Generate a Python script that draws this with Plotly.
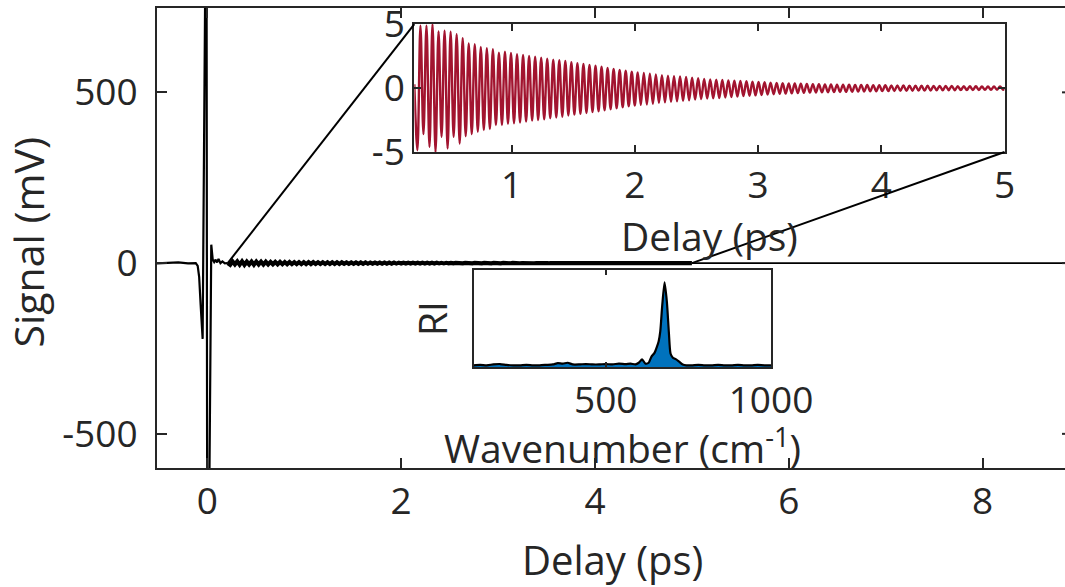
import numpy as np
import plotly.graph_objects as go

# ---------------- data ----------------
# Transient around time zero (delay in ps, signal in mV)
head_t = [-0.52, -0.40, -0.30, -0.20, -0.12, -0.10, -0.085, -0.07, -0.058, -0.049,
          -0.010, 0.0, 0.04, 0.055, 0.07, 0.085, 0.10, 0.115, 0.135, 0.155, 0.18, 0.20, 0.21]
head_v = [-1.0, 1.5, 2.0, -1.0, 0.0, -8.0, -40.0, -120.0, -190.0, -222.0,
          1300.0, -1400.0, 54.0, 10.0, 3.0, 10.0, 2.0, 12.0, 0.0, 5.0, -1.0, 1.0, 0.3]

# Coherent oscillation after 0.21 ps: successive extrema (mV), half a period apart
osc_start = 0.235
osc_half_period = 0.0245
osc_extrema = [
    -4.86, 4.87, -3.60, 4.87, -4.60, 5.00, -5.00, 4.43, -3.81, 4.48,
    -4.73, 4.40, -3.81, 4.21, -4.34, 3.90, -3.76, 3.48, -3.60, 3.42,
    -3.42, 3.21, -3.28, 3.11, -3.20, 3.03, -2.89, 2.77, -2.89, 2.85,
    -2.80, 2.75, -2.75, 2.65, -2.70, 2.58, -2.62, 2.50, -2.55, 2.45,
    -2.50, 2.38, -2.45, 2.30, -2.36, 2.22, -2.30, 2.18, -2.24, 2.12,
    -2.15, 2.02, -2.08, 1.95, -2.02, 1.88, -1.95, 1.80, -1.88, 1.74,
    -1.82, 1.66, -1.74, 1.58, -1.66, 1.50, -1.58, 1.42, -1.50, 1.35,
    -1.42, 1.28, -1.36, 1.22, -1.32, 1.18, -1.28, 1.12, -1.22, 1.06,
    -1.16, 1.00, -1.12, 0.96, -1.08, 0.92, -1.04, 0.90, -1.00, 0.86,
    -0.95, 0.80, -0.90, 0.76, -0.86, 0.72, -0.82, 0.68, -0.80, 0.66,
    -0.78, 0.64, -0.74, 0.60, -0.70, 0.58, -0.66, 0.55, -0.63, 0.53,
    -0.60, 0.50, -0.57, 0.47, -0.54, 0.45, -0.51, 0.42, -0.48, 0.40,
    -0.46, 0.38, -0.44, 0.36, -0.42, 0.35, -0.40, 0.33, -0.38, 0.32,
    -0.36, 0.31, -0.35, 0.30, -0.34, 0.29, -0.33, 0.28, -0.32, 0.27,
    -0.31, 0.27, -0.30, 0.26, -0.29, 0.25, -0.28, 0.25, -0.27, 0.24,
    -0.26, 0.23, -0.25, 0.23, -0.24, 0.22, -0.24, 0.21, -0.23, 0.21,
    -0.22, 0.20, -0.22, 0.19, -0.21, 0.19, -0.20, 0.18, -0.20, 0.18,
    -0.19, 0.17, -0.18, 0.17, -0.18, 0.16, -0.17, 0.16, -0.17, 0.15,
    -0.16, 0.15, -0.16, 0.14, -0.15, 0.14, -0.15, 0.13, -0.14, 0.13,
    -0.14, 0.12, -0.13, 0.12, -0.13,
]
osc_edge_t = [0.21, 5.0]
osc_edge_v = [0.3, -0.05]

# Long-delay baseline
tail_t = [5.0, 6.0, 7.0, 8.0, 8.85]
tail_v = [-0.05, 0.0, 0.0, 0.0, 0.0]

# Raman intensity spectrum (wavenumber in cm^-1, normalised intensity)
spec_wn = [100, 120, 140, 160, 180, 200, 220, 240, 260, 280, 300, 320, 340, 355, 370,
           385, 400, 420, 440, 460, 480, 500, 520, 540, 560, 575, 590, 600, 610, 620,
           630, 638, 648, 655, 660, 665, 671, 678, 685, 691, 696, 703, 713, 723, 733,
           744, 760, 780, 800, 820, 840, 860, 880, 900, 920, 940, 960, 980, 1000]
spec_ri = [0.02, 0.025, 0.02, 0.03, 0.035, 0.025, 0.02, 0.02, 0.025, 0.02, 0.02, 0.025,
           0.03, 0.045, 0.04, 0.05, 0.03, 0.03, 0.035, 0.03, 0.03, 0.035, 0.03, 0.04,
           0.035, 0.04, 0.03, 0.05, 0.09, 0.04, 0.05, 0.12, 0.17, 0.24, 0.30, 0.42,
           0.73, 1.00, 0.77, 0.41, 0.16, 0.11, 0.09, 0.06, 0.03, 0.02, 0.02, 0.025,
           0.02, 0.02, 0.025, 0.02, 0.02, 0.025, 0.02, 0.02, 0.025, 0.02, 0.02]

# Axis ticks
main_xticks = [0, 2, 4, 6, 8]
main_yticks = [-500, 0, 500]
trace_xticks = [1, 2, 3, 4, 5]
trace_yticks = [-5, 0, 5]
spec_xticks = [500, 1000]

# ---------------- layout constants ----------------
W, H = 1065, 587
MARGIN = dict(l=157, r=0, t=8, b=119)
MAIN_XR = [-0.52, 8.85]
MAIN_YR = [-600, 747]
TRACE_XR = [0.21, 5.0]
TRACE_YR = [-5, 5]
SPEC_XR = [100, 1000]
SPEC_YR = [0, 1.146]
TRACE_DOM_X = [0.2834, 0.9334]
TRACE_DOM_Y = [0.687, 0.965]
SPEC_DOM_X = [0.3486, 0.6762]
SPEC_DOM_Y = [0.2196, 0.4304]

INK = "#262626"
RED = "#A2142F"
BLUE = "#0072BD"
FONT = "Open Sans"
TICK_SIZE = 37
TITLE_SIZE = 39
MAIN_TITLE_SIZE = 40


def labels(vals):
    # plain hyphen-minus for negative tick labels
    return [str(v) for v in vals]


osc_t = list(osc_start + osc_half_period * np.arange(len(osc_extrema)))
trace_t = [osc_edge_t[0]] + osc_t + [osc_edge_t[1]]
trace_v = [osc_edge_v[0]] + osc_extrema + [osc_edge_v[1]]

fig = go.Figure()

# Transient on the main axes: pulse region and long-delay baseline
fig.add_trace(go.Scatter(
    x=head_t, y=head_v, mode="lines", line=dict(color="black", width=2.2),
    xaxis="x", yaxis="y", hoverinfo="skip"))
fig.add_trace(go.Scatter(
    x=tail_t, y=tail_v, mode="lines", line=dict(color="black", width=1.8),
    xaxis="x", yaxis="y", hoverinfo="skip"))
# Oscillating part on the main axes (dense band at this scale)
fig.add_trace(go.Scatter(
    x=trace_t, y=trace_v, mode="lines", line=dict(color="black", width=4.2),
    xaxis="x", yaxis="y", hoverinfo="skip"))

# Zoomed oscillation
fig.add_trace(go.Scatter(
    x=trace_t, y=trace_v, mode="lines",
    line=dict(color=RED, width=2.4, shape="spline", smoothing=1.0),
    xaxis="x2", yaxis="y2", hoverinfo="skip"))

# Spectrum
fig.add_trace(go.Scatter(
    x=spec_wn, y=spec_ri, mode="lines", fill="tozeroy", fillcolor=BLUE,
    line=dict(color="black", width=2.2, shape="spline", smoothing=0.6),
    xaxis="x3", yaxis="y3", hoverinfo="skip"))

axis_common = dict(showgrid=False, zeroline=False, showline=True, linewidth=2,
                   linecolor=INK, ticks="inside", tickwidth=2, tickcolor=INK,
                   automargin=False, ticklabeloverflow="allow",
                   tickfont=dict(family=FONT, size=TICK_SIZE, color=INK))

fig.update_layout(
    width=W, height=H, margin=MARGIN,
    paper_bgcolor="white", plot_bgcolor="white", showlegend=False,
    font=dict(family=FONT, size=TICK_SIZE, color=INK),
    xaxis=dict(domain=[0, 1], range=MAIN_XR, tickvals=main_xticks,
               ticktext=labels(main_xticks), ticklen=10,
               mirror="ticks", anchor="y", **axis_common),
    yaxis=dict(domain=[0, 1], range=MAIN_YR, tickvals=main_yticks,
               ticktext=labels(main_yticks), ticklen=10, ticklabelstandoff=10,
               mirror=False, anchor="x", **axis_common),
    xaxis2=dict(domain=TRACE_DOM_X, range=TRACE_XR, tickvals=trace_xticks,
                ticktext=labels(trace_xticks), ticklen=7,
                mirror="ticks", anchor="y2",
                title=dict(text="Delay (ps)", font=dict(size=TITLE_SIZE), standoff=1),
                **axis_common),
    yaxis2=dict(domain=TRACE_DOM_Y, range=TRACE_YR, tickvals=trace_yticks,
                ticktext=labels(trace_yticks), ticklen=7,
                mirror="ticks", anchor="x2", **axis_common),
    xaxis3=dict(domain=SPEC_DOM_X, range=SPEC_XR, tickvals=spec_xticks,
                ticktext=labels(spec_xticks), ticklen=5,
                mirror="ticks", anchor="y3", **axis_common),
    yaxis3=dict(domain=SPEC_DOM_Y, range=SPEC_YR, showticklabels=False, tickvals=[],
                mirror=True, anchor="x3",
                title=dict(text="RI", font=dict(size=TITLE_SIZE), standoff=12),
                **axis_common),
)

# Axis titles placed as annotations (paper coordinates of the main plot area)
fig.add_annotation(text="Delay (ps)", xref="paper", yref="paper",
                   x=0.5017, y=-0.198, xanchor="center", yanchor="middle",
                   showarrow=False,
                   font=dict(family=FONT, size=MAIN_TITLE_SIZE, color=INK))
fig.add_annotation(text="Signal (mV)", xref="paper", yref="paper",
                   x=-0.1426, y=0.4913, xanchor="center", yanchor="middle",
                   textangle=-90, showarrow=False,
                   font=dict(family=FONT, size=MAIN_TITLE_SIZE + 1, color=INK))
fig.add_annotation(text="Wavenumber (cm<sup>-1</sup>)", xref="paper", yref="paper",
                   x=(SPEC_DOM_X[0] + SPEC_DOM_X[1]) / 2, y=0.048,
                   xanchor="center", yanchor="middle", showarrow=False,
                   font=dict(family=FONT, size=TITLE_SIZE, color=INK))


def main_to_paper(x, y):
    px = (x - MAIN_XR[0]) / (MAIN_XR[1] - MAIN_XR[0])
    py = (y - MAIN_YR[0]) / (MAIN_YR[1] - MAIN_YR[0])
    return px, py


# Connectors from the zoomed range on the main axis to the inset corners
x0, y0 = main_to_paper(TRACE_XR[0], 0)
fig.add_shape(type="line", xref="paper", yref="paper", x0=x0, y0=y0,
              x1=TRACE_DOM_X[0], y1=TRACE_DOM_Y[1], line=dict(color="black", width=2))
x0, y0 = main_to_paper(TRACE_XR[1], 0)
fig.add_shape(type="line", xref="paper", yref="paper", x0=x0, y0=y0,
              x1=TRACE_DOM_X[1], y1=TRACE_DOM_Y[0], line=dict(color="black", width=2))

# Right-hand tick marks of the main axes (frame edge lies just outside the view)
tick_w = 3 / (W - MARGIN["l"] - MARGIN["r"])
for v in main_yticks:
    _, py = main_to_paper(0, v)
    fig.add_shape(type="line", xref="paper", yref="paper", x0=1 - tick_w, x1=1,
                  y0=py, y1=py, line=dict(color=INK, width=2))

fig.write_html("out.html")
